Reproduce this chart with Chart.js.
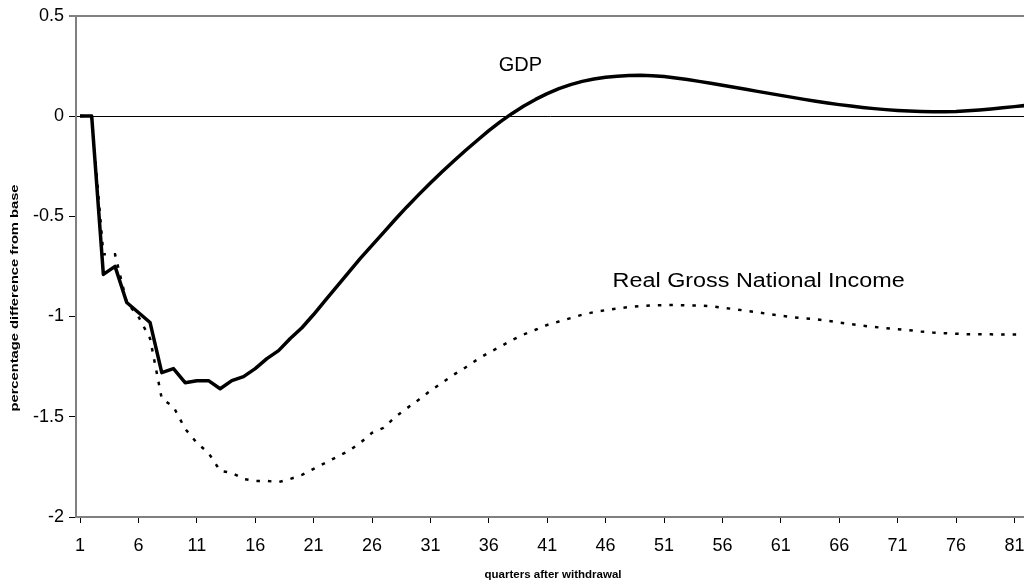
<!DOCTYPE html>
<html>
<head>
<meta charset="utf-8">
<script src="https://cdn.jsdelivr.net/npm/chart.js@4.4.1/dist/chart.umd.min.js"></script>
<style>
html,body{margin:0;padding:0;background:#fff;overflow:hidden}
#wrap{width:1024px;height:587px;position:relative}
</style>
</head>
<body>
<div id="wrap"><canvas id="c" width="1024" height="587"></canvas></div>
<script>
const quarters = [1,2,3,4,5,6,7,8,9,10,11,12,13,14,15,16,17,18,19,20,21,22,23,24,25,26,27,28,29,30,31,32,33,34,35,36,37,38,39,40,41,42,43,44,45,46,47,48,49,50,51,52,53,54,55,56,57,58,59,60,61,62,63,64,65,66,67,68,69,70,71,72,73,74,75,76,77,78,79,80,81,82];

const gdp = [0,0,-0.79,-0.75,-0.93,-0.98,-1.03,-1.28,-1.26,-1.33,
  -1.32,-1.32,-1.36,-1.32,-1.30,-1.26,-1.21,-1.17,-1.11,-1.056,
  -0.99,-0.92,-0.85,-0.78,-0.71,-0.645,-0.58,-0.515,-0.452,-0.392,
  -0.334,-0.278,-0.224,-0.172,-0.122,-0.073,-0.028,0.013,0.05,0.083,
  0.112,0.137,0.157,0.173,0.185,0.194,0.199,0.202,0.203,0.201,
  0.197,0.19,0.182,0.173,0.164,0.154,0.144,0.134,0.123,0.113,
  0.103,0.093,0.083,0.074,0.065,0.057,0.05,0.043,0.037,0.032,
  0.028,0.025,0.023,0.022,0.022,0.023,0.026,0.03,0.035,0.041,
  0.047,0.053];

const rgni = [0,0,-0.69,-0.69,-0.93,-1.0,-1.11,-1.41,-1.45,-1.56,
  -1.63,-1.68,-1.77,-1.78,-1.81,-1.82,-1.82,-1.826,-1.81,-1.79,
  -1.76,-1.73,-1.70,-1.67,-1.63,-1.58,-1.555,-1.50,-1.457,-1.415,
  -1.37,-1.33,-1.29,-1.254,-1.215,-1.18,-1.15,-1.117,-1.089,-1.066,
  -1.042,-1.025,-1.008,-0.991,-0.978,-0.968,-0.96,-0.953,-0.948,-0.945,
  -0.943,-0.943,-0.944,-0.945,-0.948,-0.956,-0.963,-0.971,-0.979,-0.988,
  -0.996,-1.004,-1.009,-1.013,-1.021,-1.03,-1.038,-1.046,-1.052,-1.058,
  -1.063,-1.068,-1.075,-1.08,-1.083,-1.086,-1.088,-1.089,-1.089,-1.09,
  -1.09,-1.09];

const xTickValues = [1,6,11,16,21,26,31,36,41,46,51,56,61,66,71,76,81];
const yTickValues = [0.5,0,-0.5,-1,-1.5,-2];
const seriesNames = ['GDP','Real Gross National Income'];
const xTitle = 'quarters after withdrawal';
const yTitle = 'percentage difference from base';

const FAMILY = '"Liberation Sans", Arial, Helvetica, sans-serif';

function drawStretched(ctx, text, x, y, targetW, align) {
  const w = ctx.measureText(text).width;
  const sx = targetW / w;
  ctx.save();
  ctx.translate(x, y);
  ctx.scale(sx, 1);
  ctx.textAlign = align;
  ctx.fillText(text, 0, 0);
  ctx.restore();
}

const textPlugin = {
  id: 'texts',
  afterDraw(chart) {
    const {ctx, scales: {x, y}} = chart;
    ctx.save();
    ctx.fillStyle = '#000';
    ctx.textBaseline = 'middle';
    ctx.font = '20px ' + FAMILY;
    ctx.textAlign = 'center';
    ctx.fillText(seriesNames[0], x.getPixelForValue(38.7), y.getPixelForValue(0.253));
    drawStretched(ctx, seriesNames[1], x.getPixelForValue(46.6), y.getPixelForValue(-0.824), 292, 'left');
    ctx.font = 'bold 11px ' + FAMILY;
    drawStretched(ctx, xTitle, 553, 575, 137, 'center');
    ctx.save();
    ctx.translate(15, 298);
    ctx.rotate(-Math.PI / 2);
    ctx.font = 'bold 10px ' + FAMILY;
    drawStretched(ctx, yTitle, 0, 0, 227, 'center');
    ctx.restore();
    ctx.restore();
  }
};

new Chart(document.getElementById('c'), {
  type: 'line',
  data: {
    datasets: [
      {
        label: seriesNames[0],
        data: quarters.map((q, i) => ({x: q, y: gdp[i]})),
        borderColor: '#000',
        borderWidth: 3.5,
        pointRadius: 0,
        tension: 0,
        fill: false,
        borderJoinStyle: 'round'
      },
      {
        label: seriesNames[1],
        data: quarters.map((q, i) => ({x: q, y: rgni[i]})),
        borderColor: '#000',
        borderWidth: 2.5,
        borderDash: [3.5, 8],
        pointRadius: 0,
        tension: 0,
        fill: false
      }
    ]
  },
  options: {
    responsive: false,
    animation: false,
    devicePixelRatio: 1,
    layout: {padding: {top: 13, right: 0, left: 0, bottom: 0}},
    plugins: {legend: {display: false}, tooltip: {enabled: false}},
    scales: {
      x: {
        type: 'linear',
        min: 0.657,
        max: 81.82,
        afterBuildTicks(s) { s.ticks = xTickValues.map(v => ({value: v})); },
        afterFit(s) { s.height = 70; s.paddingRight = 0; s.paddingLeft = 0; },
        border: {display: true, color: '#808080', width: 2},
        grid: {drawOnChartArea: false, drawTicks: true, tickLength: 6, tickColor: '#000', tickWidth: 1},
        ticks: {
          color: '#000',
          font: {family: FAMILY, size: 18},
          padding: 12,
          maxRotation: 0,
          autoSkip: false,
          callback: v => String(v)
        }
      },
      y: {
        min: -2,
        max: 0.5,
        afterBuildTicks(s) { s.ticks = yTickValues.map(v => ({value: v})); },
        afterFit(s) { s.width = 76; },
        border: {display: true, color: '#808080', width: 2},
        grid: {
          color: c => c.tick && c.tick.value === 0 ? '#000' : (c.tick && c.tick.value === 0.5 ? '#808080' : 'rgba(0,0,0,0)'),
          lineWidth: c => c.tick && c.tick.value === 0.5 ? 2 : 1,
          tickColor: '#000',
          tickLength: 7,
          tickWidth: 1
        },
        ticks: {
          color: '#000',
          font: {family: FAMILY, size: 18},
          padding: 5,
          callback: v => String(v)
        }
      }
    }
  },
  plugins: [textPlugin]
});
</script>
</body>
</html>
